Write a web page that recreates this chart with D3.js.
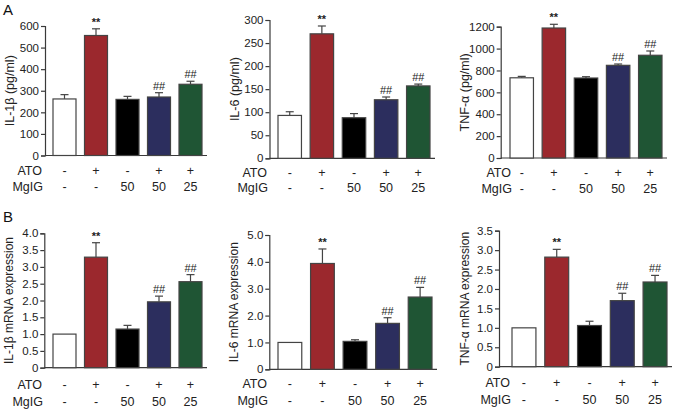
<!DOCTYPE html>
<html>
<head>
<meta charset="utf-8">
<script src="https://cdn.jsdelivr.net/npm/d3@7"></script>
<style>
  body { margin: 0; background: #fff; }
  svg { display: block; font-family: "Liberation Sans", Arial, sans-serif; }
</style>
</head>
<body>
<svg id="chart" width="677" height="411"></svg>
<script>
// ---- data ----
const groups = ["g1", "g2", "g3", "g4", "g5"];
const atoLabels = ["-", "+", "-", "+", "+"];
const mgigLabels = ["-", "-", "50", "50", "25"];
const barColors = ["#ffffff", "#9b282d", "#000000", "#2c2e5e", "#1f5534"];

const il1bProtein = [262, 556, 260, 271, 330];
const il1bProteinErr = [20, 31, 14, 20, 14];
const il6Protein = [93, 270, 88, 127, 157];
const il6ProteinErr = [8, 17, 9, 6, 4];
const tnfProtein = [733, 1188, 731, 847, 939];
const tnfProteinErr = [13, 34, 12, 12, 39];

const il1bMrna = [1.0, 3.29, 1.15, 1.96, 2.56];
const il1bMrnaErr = [0, 0.43, 0.11, 0.17, 0.21];
const il6Mrna = [1.0, 3.94, 1.04, 1.71, 2.69];
const il6MrnaErr = [0, 0.54, 0.06, 0.21, 0.36];
const tnfMrna = [1.0, 2.82, 1.06, 1.70, 2.18];
const tnfMrnaErr = [0, 0.20, 0.11, 0.19, 0.17];

const sigLabels = ["", "**", "", "##", "##"];

const ticksA1 = [0, 100, 200, 300, 400, 500, 600];
const ticksA2 = [0, 50, 100, 150, 200, 250, 300];
const ticksA3 = [0, 200, 400, 600, 800, 1000, 1200];
const ticksB1 = [0, 0.5, 1.0, 1.5, 2.0, 2.5, 3.0, 3.5, 4.0];
const ticksB2 = [0, 1.0, 2.0, 3.0, 4.0, 5.0];
const ticksB3 = [0, 0.5, 1.0, 1.5, 2.0, 2.5, 3.0, 3.5];

// ---- layout (positions only) ----
const panels = [
  { vals: il1bProtein, errs: il1bProteinErr, ticks: ticksA1, fmt: d => d, label: "IL-1β (pg/ml)", labSize: 12.5,
    axisX: 45, barL: 53, barR: 202, yTop: 26, yBot: 155.5, labX: 10, rowX: 42, atoY: 175, mgY: 191 },
  { vals: il6Protein, errs: il6ProteinErr, ticks: ticksA2, fmt: d => d, label: "IL-6 (pg/ml)", labSize: 12.5,
    axisX: 269.5, barL: 278, barR: 430, yTop: 20, yBot: 158.3, labX: 235, rowX: 267, atoY: 176.5, mgY: 192 },
  { vals: tnfProtein, errs: tnfProteinErr, ticks: ticksA3, fmt: d => d, label: "TNF-α (pg/ml)", labSize: 12.5,
    axisX: 500.7, barL: 510, barR: 662, yTop: 26.7, yBot: 158, labX: 465, rowX: 511, atoY: 177, mgY: 193 },
  { vals: il1bMrna, errs: il1bMrnaErr, ticks: ticksB1, fmt: d => d === 0 ? "0" : d.toFixed(1), label: "IL-1β mRNA expression", labSize: 12,
    axisX: 44.3, barL: 53, barR: 202, yTop: 233.3, yBot: 367.7, labX: 9, rowX: 42, atoY: 389, mgY: 405.5 },
  { vals: il6Mrna, errs: il6MrnaErr, ticks: ticksB2, fmt: d => d === 0 ? "0" : d.toFixed(1), label: "IL-6 mRNA expression", labSize: 12,
    axisX: 269.3, barL: 278, barR: 432, yTop: 235, yBot: 369.3, labX: 234, rowX: 267, atoY: 388, mgY: 405 },
  { vals: tnfMrna, errs: tnfMrnaErr, ticks: ticksB3, fmt: d => d === 0 ? "0" : d.toFixed(1), label: "TNF-α mRNA expression", labSize: 12,
    axisX: 499, barL: 512, barR: 667, yTop: 230.7, yBot: 366.7, labX: 465, rowX: 510, atoY: 387, mgY: 404 }
];

const svg = d3.select("#chart");
const axisColor = "#3a3a3a";

panels.forEach(p => {
  const g = svg.append("g");
  const maxTick = p.ticks[p.ticks.length - 1];
  const y = d3.scaleLinear().domain([0, maxTick]).range([p.yBot, p.yTop]);
  const x = d3.scaleBand().domain(groups).range([p.barL, p.barR]).paddingInner(0.27).paddingOuter(0);

  // y axis
  const yAxis = d3.axisLeft(y).tickValues(p.ticks).tickFormat(p.fmt).tickSizeOuter(0).tickSize(4).tickPadding(2);
  const ya = g.append("g").attr("transform", `translate(${p.axisX},0)`).call(yAxis);
  ya.select(".domain").attr("stroke", axisColor).attr("stroke-width", 1.2);
  ya.selectAll(".tick line").attr("stroke", axisColor).attr("stroke-width", 1.2);
  ya.selectAll(".tick text").attr("fill", "#222").style("font-size", "11.5px")
    .style("font-family", "'Liberation Sans', Arial, sans-serif");

  // x baseline
  g.append("line").attr("x1", p.axisX).attr("x2", p.barR + 5)
    .attr("y1", y(0)).attr("y2", y(0)).attr("stroke", axisColor).attr("stroke-width", 1.2);

  // error bars
  const cap = 4;
  groups.forEach((k, i) => {
    if (p.errs[i] > 0) {
      const cx = x(k) + x.bandwidth() / 2;
      g.append("line").attr("x1", cx).attr("x2", cx)
        .attr("y1", y(p.vals[i])).attr("y2", y(p.vals[i] + p.errs[i]))
        .attr("stroke", "#444").attr("stroke-width", 1.2);
      g.append("line").attr("x1", cx - cap).attr("x2", cx + cap)
        .attr("y1", y(p.vals[i] + p.errs[i])).attr("y2", y(p.vals[i] + p.errs[i]))
        .attr("stroke", "#444").attr("stroke-width", 1.2);
    }
  });

  // bars
  g.selectAll("rect.bar").data(groups).join("rect")
    .attr("class", "bar")
    .attr("x", k => x(k))
    .attr("width", x.bandwidth())
    .attr("y", (k, i) => y(p.vals[i]))
    .attr("height", (k, i) => y(0) - y(p.vals[i]))
    .attr("fill", (k, i) => barColors[i])
    .attr("stroke", "#444").attr("stroke-width", 1.2);

  // significance markers
  g.selectAll("text.sig").data(groups).join("text")
    .attr("class", "sig")
    .attr("x", k => x(k) + x.bandwidth() / 2)
    .attr("y", (k, i) => y(p.vals[i] + p.errs[i]) - 3)
    .attr("text-anchor", "middle")
    .style("font-size", "11px")
    .style("font-weight", (k, i) => sigLabels[i] === "**" ? "bold" : "normal")
    .attr("fill", "#222")
    .text((k, i) => sigLabels[i]);

  // y label
  g.append("text")
    .attr("transform", `translate(${p.labX},${(p.yTop + p.yBot) / 2}) rotate(-90)`)
    .attr("text-anchor", "middle").attr("dy", "0.35em")
    .style("font-size", p.labSize + "px").attr("fill", "#222")
    .text(p.label);

  // ATO / MgIG rows
  const rowSize = "12.5px";
  g.append("text").attr("x", p.rowX).attr("y", p.atoY).attr("text-anchor", "end")
    .style("font-size", rowSize).attr("fill", "#222").text("ATO");
  g.append("text").attr("x", p.rowX + 1).attr("y", p.mgY).attr("text-anchor", "end")
    .style("font-size", rowSize).attr("fill", "#222").text("MgIG");
  g.selectAll("text.ato").data(groups).join("text").attr("class", "ato")
    .attr("x", k => x(k) + x.bandwidth() / 2).attr("y", p.atoY)
    .attr("text-anchor", "middle").style("font-size", rowSize).attr("fill", "#222")
    .text((k, i) => atoLabels[i]);
  g.selectAll("text.mg").data(groups).join("text").attr("class", "mg")
    .attr("x", k => x(k) + x.bandwidth() / 2).attr("y", p.mgY)
    .attr("text-anchor", "middle").style("font-size", rowSize).attr("fill", "#222")
    .text((k, i) => mgigLabels[i]);
});

// panel letters
svg.append("text").attr("x", 3).attr("y", 15).style("font-size", "15px").attr("fill", "#111").text("A");
svg.append("text").attr("x", 3).attr("y", 222).style("font-size", "15px").attr("fill", "#111").text("B");
</script>
</body>
</html>
